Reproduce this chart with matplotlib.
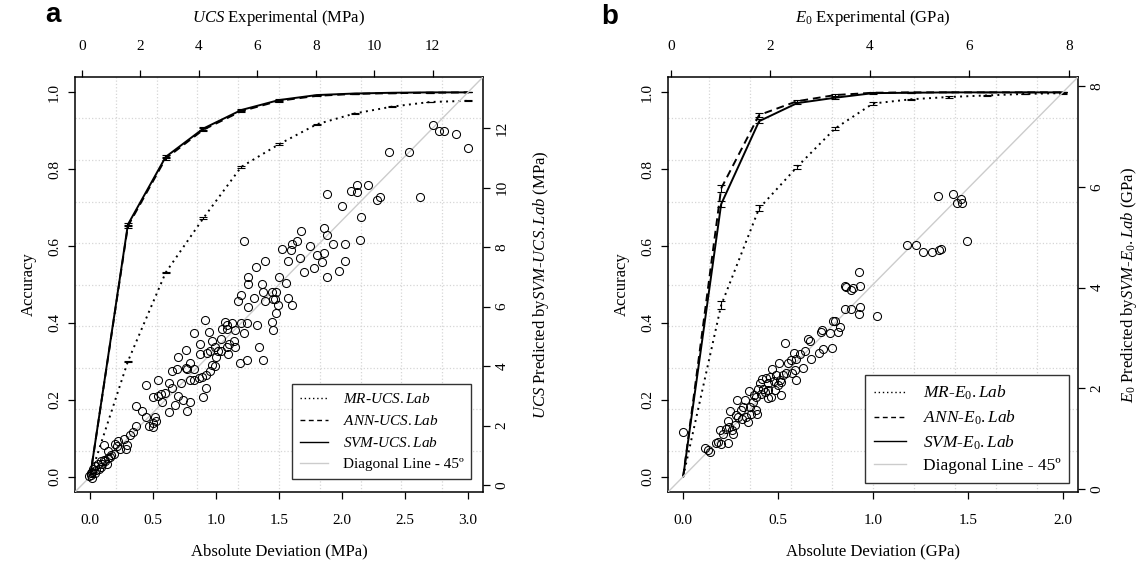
import matplotlib
matplotlib.use("Agg")
import matplotlib.pyplot as plt
from matplotlib.lines import Line2D
from matplotlib.ticker import FormatStrFormatter

plt.rcParams['font.family'] = ['Liberation Serif', 'DejaVu Serif']
plt.rcParams['mathtext.fontset'] = 'custom'
plt.rcParams['mathtext.it'] = 'Liberation Serif:italic'
plt.rcParams['mathtext.rm'] = 'Liberation Serif'

# ------------------------------------------------------------
# Panel a : UCS (MPa)
# ------------------------------------------------------------
ucs_dev = [0.0, 0.3, 0.6, 0.9, 1.2, 1.5, 1.8, 2.1, 2.4, 2.7, 3.0]
ucs_mr = [0.0, 0.300, 0.531, 0.673, 0.806, 0.865, 0.917, 0.945, 0.963, 0.975, 0.978]
ucs_ann = [0.0, 0.652, 0.828, 0.903, 0.951, 0.978, 0.991, 0.996, 0.998, 0.999, 1.0]
ucs_svm = [0.0, 0.656, 0.832, 0.906, 0.954, 0.980, 0.993, 0.997, 0.999, 1.0, 1.0]
ucs_mr_err = [0.0, 0.002, 0.002, 0.002, 0.002, 0.002, 0.001, 0.001, 0.001, 0.001, 0.001]
ucs_ann_err = [0.0, 0.004, 0.003, 0.003, 0.002, 0.002, 0.001, 0.001, 0.0, 0.0, 0.0]
ucs_svm_err = [0.0, 0.005, 0.004, 0.003, 0.003, 0.002, 0.001, 0.001, 0.0, 0.0, 0.0]

ucs_exp = [12.0, 12.2, 12.4, 12.8, 13.2, 10.5, 11.2, 8.4, 9.2, 9.4, 9.4, 9.8, 8.9, 10.1,
           10.2, 11.55, 9.55, 9.5, 5.55, 7.5, 8.3, 8.4, 8.6, 9.0, 7.8, 8.05, 8.3, 8.2,
           7.95, 7.6, 8.4, 8.8, 9.0, 6.85, 7.2, 7.35, 7.15, 7.45, 7.05, 6.25, 5.95, 5.7,
           5.7, 6.15, 6.75, 7.0, 6.2, 6.5, 6.65, 5.35, 5.45, 5.9, 6.25, 6.55, 6.6, 7.05,
           7.2, 6.7, 6.65, 5.7, 4.2, 4.9, 4.95, 5.15, 5.45, 5.65, 6.0, 6.5, 6.55, 3.85,
           4.35, 4.8, 4.95, 5.25, 5.55, 4.45, 4.75, 4.55, 4.65, 4.75, 4.95, 5.05, 5.2,
           5.25, 4.05, 3.55, 3.3, 3.7, 4.05, 4.3, 4.4, 4.6, 5.0, 6.05, 5.4, 5.65, 6.2,
           3.1, 3.25, 3.55, 3.6, 3.85, 4.45, 4.55, 4.4, 4.25, 4.1, 4.0, 3.85, 3.7, 3.4,
           2.6, 2.2, 3.0, 3.1, 4.25, 4.15, 3.3, 3.45, 3.7, 3.6, 3.0, 2.75, 2.6, 2.45,
           2.7, 2.85, 3.2, 1.85, 2.05, 2.2, 2.5, 2.45, 2.55, 2.45, 2.3, 1.85, 1.75, 1.65,
           1.45, 1.55, 1.5, 1.15, 1.25, 0.75, 0.9, 1.0, 0.9, 0.65, 0.55, 0.45, 0.4, 0.3,
           0.3, 0.25, 0.35, 0.45, 0.7, 0.8, 0.95, 0.75, 0.5, 0.6, 0.35, 1.1, 1.3, 1.2,
           0.85, 0.65]
ucs_pred = [12.1, 11.9, 11.9, 11.8, 11.35, 11.2, 11.2, 9.8, 9.9, 10.1, 9.85, 10.1, 9.4, 9.6,
            9.7, 9.7, 9.0, 8.25, 8.2, 8.55, 8.65, 8.4, 8.1, 8.1, 8.05, 7.75, 7.8, 7.5,
            7.3, 7.15, 7.0, 7.2, 7.55, 7.95, 8.1, 8.2, 7.9, 7.65, 7.55, 7.55, 7.35, 7.0,
            6.75, 6.75, 7.0, 6.8, 6.5, 6.5, 6.5, 6.2, 6.4, 6.3, 6.2, 6.25, 6.25, 6.3,
            6.05, 6.05, 5.8, 6.0, 5.55, 5.5, 5.4, 5.45, 5.45, 5.45, 5.4, 5.5, 5.2, 5.1,
            5.15, 5.25, 5.25, 5.2, 5.1, 4.85, 4.9, 4.65, 4.5, 4.5, 4.65, 4.75, 4.85,
            4.65, 4.75, 4.55, 4.3, 4.1, 4.4, 4.45, 4.5, 4.3, 4.4, 4.65, 4.1, 4.2, 4.2,
            3.85, 3.9, 3.95, 3.9, 3.9, 4.05, 4.0, 3.85, 3.7, 3.65, 3.6, 3.55, 3.55, 3.45,
            3.55, 3.35, 3.45, 3.25, 3.25, 2.95, 3.0, 2.85, 2.8, 2.5, 2.45, 2.8, 3.0, 2.95,
            3.05, 3.1, 2.7, 2.65, 2.5, 2.3, 2.3, 2.1, 2.15, 1.95, 2.0, 2.0, 1.8, 1.7,
            1.55, 1.35, 1.2, 1.4, 1.5, 1.35, 1.15, 1.0, 0.9, 0.8, 0.7, 0.65, 0.55, 0.4,
            0.35, 0.3, 0.25, 0.4, 0.7, 0.8, 0.95, 0.85, 0.5, 0.55, 0.45, 1.05, 1.2, 1.3,
            0.7, 0.6]

# ------------------------------------------------------------
# Panel b : E0 (GPa)
# ------------------------------------------------------------
e0_dev = [0.0, 0.2, 0.4, 0.6, 0.8, 1.0, 1.2, 1.4, 1.6, 1.8, 2.0]
e0_mr = [0.0, 0.446, 0.698, 0.806, 0.906, 0.971, 0.982, 0.988, 0.992, 0.996, 0.998]
e0_ann = [0.0, 0.750, 0.941, 0.977, 0.993, 0.999, 1.0, 1.0, 1.0, 1.0, 1.0]
e0_svm = [0.0, 0.709, 0.925, 0.972, 0.986, 0.998, 0.999, 1.0, 1.0, 1.0, 1.0]
e0_mr_err = [0.0, 0.011, 0.008, 0.006, 0.005, 0.003, 0.002, 0.002, 0.001, 0.001, 0.001]
e0_ann_err = [0.0, 0.009, 0.005, 0.003, 0.002, 0.001, 0.0, 0.0, 0.0, 0.0, 0.0]
e0_svm_err = [0.0, 0.008, 0.005, 0.003, 0.002, 0.001, 0.0, 0.0, 0.0, 0.0, 0.0]

e0_exp = [5.37, 5.67, 5.84, 5.74, 5.86, 5.96, 4.75, 4.93, 5.07, 5.25, 5.38, 5.42, 3.78,
          3.51, 3.53, 3.63, 3.67, 3.81, 3.51, 3.63, 3.81, 3.78, 4.15, 3.26, 3.29, 3.40,
          3.37, 3.19, 3.01, 3.04, 2.76, 2.80, 2.30, 3.23, 3.06, 2.97, 2.82, 2.69, 2.59,
          2.48, 2.52, 2.42, 2.36, 2.66, 2.49, 2.44, 2.52, 2.32, 2.26, 2.19, 2.18, 2.04,
          1.99, 1.92, 1.83, 1.79, 1.75, 1.85, 1.95, 2.07, 2.16, 2.22, 2.21, 2.02, 1.95,
          1.89, 1.72, 1.67, 1.57, 1.49, 1.34, 1.45, 1.42, 1.59, 1.72, 1.74, 1.62, 1.52,
          1.55, 1.44, 1.35, 1.20, 1.15, 1.29, 1.23, 1.12, 1.00, 1.05, 0.95, 0.92, 1.02,
          1.15, 0.68, 0.74, 0.78, 0.25, 2.12, 1.95, 1.82, 2.09, 1.65, 1.32, 1.18, 1.26]
e0_pred = [5.81, 5.86, 5.76, 5.68, 5.68, 4.92, 4.84, 4.85, 4.70, 4.70, 4.75, 4.77, 4.31,
           4.03, 4.01, 3.96, 3.99, 4.04, 3.58, 3.58, 3.61, 3.47, 3.44, 3.33, 3.33, 3.22,
           3.12, 3.10, 3.12, 3.16, 2.98, 2.94, 2.90, 2.81, 2.79, 2.71, 2.59, 2.75, 2.69,
           2.71, 2.59, 2.56, 2.50, 2.40, 2.36, 2.30, 2.17, 2.30, 2.26, 2.17, 2.50, 2.38,
           2.23, 2.20, 2.19, 2.11, 1.99, 1.99, 2.10, 2.15, 2.07, 2.13, 1.87, 1.83, 1.82,
           1.93, 1.83, 1.87, 1.95, 1.78, 1.78, 1.64, 1.57, 1.64, 1.58, 1.50, 1.50, 1.44,
           1.33, 1.39, 1.44, 1.56, 1.35, 1.27, 1.17, 1.19, 1.17, 1.10, 0.94, 0.91, 0.90,
           0.91, 0.81, 0.77, 0.74, 1.14, 2.26, 1.97, 1.90, 1.97, 1.74, 1.47, 1.24, 1.10]

fig = plt.figure(figsize=(11.42, 5.63), dpi=100)


def panel(pos, dev, mr, ann, svm, mr_err, ann_err, svm_err, xlim, sec_lim,
          sx, sy, xticks, sticks, unit, name, sec_lab, pred_lab, pred_pad, legfs,
          leg_anchor, leg_sp, letter, letter_xy):
    ax = fig.add_axes(pos)
    ax.set_xlim(xlim)
    ax.set_ylim(-0.04, 1.04)

    # R style grid(10, 10)
    for k in range(1, 10):
        ax.axvline(xlim[0] + k * (xlim[1] - xlim[0]) / 10, color='#d6d6d6', ls=':', lw=0.9, zorder=0)
        ax.axhline(-0.04 + k * 1.08 / 10, color='#d6d6d6', ls=':', lw=0.9, zorder=0)

    ax.plot(dev, mr, ls=(0, (1, 2.2)), color='k', lw=1.4, zorder=3)
    ax.plot(dev, ann, ls=(0, (4, 2.5)), color='k', lw=1.4, zorder=3)
    ax.plot(dev, svm, ls='-', color='k', lw=1.4, zorder=3)
    for yv, ev in [(mr, mr_err), (ann, ann_err), (svm, svm_err)]:
        ax.errorbar(dev[1:], yv[1:], yerr=ev[1:], fmt='none', ecolor='k', elinewidth=0.8,
                    capsize=3, capthick=0.8, zorder=3)

    ax.set_xticks(xticks)
    ax.set_yticks([0.0, 0.2, 0.4, 0.6, 0.8, 1.0])
    ax.xaxis.set_major_formatter(FormatStrFormatter('%.1f'))
    ax.yaxis.set_major_formatter(FormatStrFormatter('%.1f'))
    ax.tick_params(direction='out', length=5, width=0.9, labelsize=11)
    ax.tick_params(axis='x', pad=11)
    ax.tick_params(axis='y', pad=5, labelrotation=90)
    for lab in ax.get_yticklabels():
        lab.set_va('center')
    for s in ax.spines.values():
        s.set_linewidth(1.1)
    ax.set_xlabel('Absolute Deviation (%s)' % unit, fontsize=12, labelpad=12)
    ax.set_ylabel('Accuracy', fontsize=12, labelpad=8)

    # secondary axes : scatter experimental vs predicted
    ax2 = fig.add_axes(pos, label=name)
    ax2.patch.set_visible(False)
    for s in ax2.spines.values():
        s.set_visible(False)
    ax2.set_xlim(sec_lim)
    ax2.set_ylim(sec_lim)
    ax2.plot(sec_lim, sec_lim, color='#cccccc', lw=1.0, zorder=1)
    ax2.plot(sx, sy, ls='none', marker='o', ms=5.8, mfc='none', mec='k', mew=0.75, zorder=2)
    ax2.xaxis.tick_top()
    ax2.xaxis.set_label_position('top')
    ax2.yaxis.tick_right()
    ax2.yaxis.set_label_position('right')
    ax2.set_xticks(sticks)
    ax2.set_yticks(sticks)
    ax2.tick_params(direction='out', length=5, width=0.9, labelsize=11)
    ax2.tick_params(axis='x', pad=12)
    ax2.tick_params(axis='y', pad=4, labelrotation=90)
    for lab in ax2.get_yticklabels():
        lab.set_va('center')
    ax2.set_xlabel(sec_lab, fontsize=12, labelpad=13)
    ax2.set_ylabel(pred_lab, fontsize=12, labelpad=pred_pad)

    handles = [Line2D([], [], ls=(0, (1, 2)), color='k', lw=1.0),
               Line2D([], [], ls=(0, (3.5, 2.5)), color='k', lw=1.0),
               Line2D([], [], ls='-', color='k', lw=1.0),
               Line2D([], [], ls='-', color='#cccccc', lw=1.0)]
    labels = [r'$\mathit{MR}$-$\mathit{%s.Lab}$' % name,
              r'$\mathit{ANN}$-$\mathit{%s.Lab}$' % name,
              r'$\mathit{SVM}$-$\mathit{%s.Lab}$' % name,
              'Diagonal Line - 45º']
    leg = ax2.legend(handles, labels, loc='lower right', bbox_to_anchor=leg_anchor,
                     borderaxespad=0, fontsize=legfs, fancybox=False, framealpha=1,
                     edgecolor='#333333', handlelength=1.85, handletextpad=0.95,
                     labelspacing=leg_sp, borderpad=0.5)
    leg.get_frame().set_linewidth(1.0)

    fig.text(letter_xy[0], letter_xy[1], letter, fontsize=20, fontweight='bold',
             family='Liberation Sans', ha='center', va='center')


panel([75 / 1142, 71 / 563, 408 / 1142, 415 / 563], ucs_dev, ucs_mr, ucs_ann, ucs_svm,
      ucs_mr_err, ucs_ann_err, ucs_svm_err, (-0.12, 3.12), (-0.23, 13.72),
      ucs_exp, ucs_pred, [0.0, 0.5, 1.0, 1.5, 2.0, 2.5, 3.0], [0, 2, 4, 6, 8, 10, 12],
      'MPa', 'UCS', r'$\mathit{UCS}$ Experimental (MPa)',
      r'$\mathit{UCS}$ Predicted by$\mathit{SVM}$-$\mathit{UCS.Lab}$ (MPa)', 16, 11,
      (0.9706, 0.031), 0.52, 'a', (53 / 1142, 1 - 15 / 563))

panel([668 / 1142, 71 / 563, 410 / 1142, 415 / 563], e0_dev, e0_mr, e0_ann, e0_svm,
      e0_mr_err, e0_ann_err, e0_svm_err, (-0.08, 2.08), (-0.054, 8.18),
      e0_exp, e0_pred, [0.0, 0.5, 1.0, 1.5, 2.0], [0, 2, 4, 6, 8],
      'GPa', r'E_{0}', r'$\mathit{E}_{\mathit{0}}$ Experimental (GPa)',
      r'$\mathit{E}_{\mathit{0}}$ Predicted by$\mathit{SVM}$-$\mathit{E}_{\mathit{0}}\mathit{.Lab}$ (GPa)',
      11, 12.5, (0.978, 0.022), 0.36, 'b', (610 / 1142, 1 - 17 / 563))

fig.savefig('out.png', dpi=100)
